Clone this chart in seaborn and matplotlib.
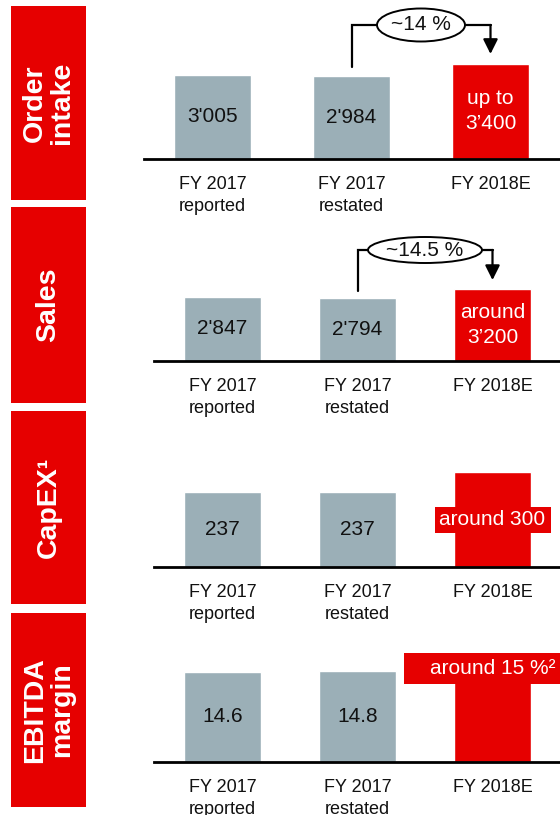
import matplotlib.pyplot as plt
import seaborn as sns
from matplotlib.patches import Rectangle, Ellipse
from matplotlib.transforms import ScaledTranslation

# Figure size in pixels (dpi 100)
W, H = 560, 815

categories = ['FY 2017\nreported', 'FY 2017\nrestated', 'FY 2018E']

order_intake = [3005, 2984, 3400]
sales = [2847, 2794, 3200]
capex = [237, 237, 300]
ebitda_margin = [14.6, 14.8, 15.0]

order_labels = ["3'005", "2'984", "up to\n3\u2019400"]
sales_labels = ["2'847", "2'794", "around\n3\u2019200"]
capex_labels = ['237', '237', 'around 300']
ebitda_labels = ['14.6', '14.8', 'around 15 %\u00b2']

panel_titles = ['Order\nintake', 'Sales', 'CapEX\u00b9', 'EBITDA\nmargin']
growth_labels = ['~14 %', '~14.5 %', None, None]

GRAY = '#9BAFB7'
RED = '#E60000'

sns.set_theme(style='white')
plt.rcParams['font.family'] = ['Liberation Sans', 'DejaVu Sans']

fig = plt.figure(figsize=(W / 100, H / 100), dpi=100)

# layout of each panel in pixels: red title box, baseline, left end of baseline,
# first bar centre, bar spacing, data units per pixel
panels = [
    dict(values=order_intake, labels=order_labels, box=(6, 200), base=159, left=144,
         c0=212.5, step=139, k=3005 / 84, growth=growth_labels[0],
         gap=(9, 134, 10), ell=(88, 33)),
    dict(values=sales, labels=sales_labels, box=(207, 403), base=361, left=154,
         c0=222.5, step=135, k=2847 / 64, growth=growth_labels[1],
         gap=(7, 111, 9), ell=(114, 26)),
    dict(values=capex, labels=capex_labels, box=(411, 604), base=567, left=154,
         c0=222.5, step=135, k=237 / 75, growth=None),
    dict(values=ebitda_margin, labels=ebitda_labels, box=(613, 807), base=762, left=154,
         c0=222.5, step=135, k=14.6 / 90, growth=None),
]

AX_H = 150  # axes height in px


def px_trans(ax, x, y):
    return fig.dpi_scale_trans + ScaledTranslation(x, y, ax.transData)


for i, p in enumerate(panels):
    # red title box on the left
    top, bottom = p['box']
    fig.add_artist(Rectangle((11 / W, 1 - bottom / H), 75 / W, (bottom - top) / H,
                             transform=fig.transFigure, color=RED, lw=0))
    fig.text(48.5 / W, 1 - (top + bottom) / 2 / H, panel_titles[i], rotation=90,
             ha='center', va='center', color='white', fontsize=20.5,
             fontweight='bold', linespacing=1.05)

    ax = fig.add_axes([p['left'] / W, 1 - p['base'] / H,
                       (W - p['left']) / W, AX_H / H])
    ax.patch.set_visible(False)
    sns.barplot(x=categories, y=p['values'], hue=categories,
                palette=[GRAY, GRAY, RED], saturation=1, width=77 / p['step'],
                legend=False, ax=ax)
    k = p['k']
    ax.set_ylim(0, AX_H * k)
    c2 = p['c0'] + 2 * p['step']
    ax.set_xlim(-(p['c0'] - p['left']) / p['step'], 2 + (W - c2) / p['step'])
    ax.set_xlabel('')
    ax.set_ylabel('')
    ax.set_yticks([])
    for s in ['top', 'right', 'left']:
        ax.spines[s].set_visible(False)
    ax.spines['bottom'].set_color('black')
    ax.spines['bottom'].set_linewidth(2)
    ax.tick_params(axis='x', length=0, pad=12, labelsize=13, labelcolor='#111111')
    ax.set_xticks(range(3))
    ax.set_xticklabels(categories, linespacing=1.4)

    vals = p['values']
    # value labels
    for j in range(2):
        ax.text(j, vals[j] / 2, p['labels'][j], ha='center', va='center',
                fontsize=15, color='#111111')

    if i in (0, 1):
        ax.text(2, vals[2] / 2, p['labels'][2], ha='center', va='center',
                fontsize=15, color='white', linespacing=1.4)
    elif i == 2:
        r = Rectangle((-58 / 100, -13 / 100), 116 / 100, 26 / 100, color=RED, lw=0,
                      transform=px_trans(ax, 2, vals[2] / 2), clip_on=False, zorder=3)
        ax.add_artist(r)
        ax.text(2, vals[2] / 2, p['labels'][2], ha='center', va='center',
                fontsize=15, color='white', zorder=4)
    else:
        r = Rectangle((-88.5 / 100, -14.5 / 100), 156 / 100, 31 / 100, color=RED, lw=0,
                      transform=px_trans(ax, 2, vals[2]), clip_on=False, zorder=3)
        ax.add_artist(r)
        ax.text(2, vals[2] + 1.5 * k, p['labels'][2], ha='center', va='center',
                fontsize=15, color='white', zorder=4)

    # growth arrow with ellipse label
    if p['growth']:
        g0, gtop, g1 = p['gap']
        y_start = vals[1] + g0 * k
        y_top = gtop * k
        y_tip = vals[2] + g1 * k
        ax.plot([1, 1, 2], [y_start, y_top, y_top], color='black', lw=1.6,
                clip_on=False, solid_joinstyle='miter', zorder=5)
        ax.annotate('', xy=(2, y_tip), xytext=(2, y_top),
                    arrowprops=dict(arrowstyle='-|>', color='black', lw=1.6,
                                    mutation_scale=22, shrinkA=0, shrinkB=0),
                    annotation_clip=False, zorder=5)
        ew, eh = p['ell']
        e = Ellipse((0, 0), ew / 100, eh / 100, facecolor='white', edgecolor='black',
                    lw=1.4, transform=px_trans(ax, 1.5, y_top), clip_on=False, zorder=6)
        ax.add_artist(e)
        ax.text(1.5, y_top, p['growth'], ha='center', va='center', fontsize=15,
                color='#111111', zorder=7)

fig.savefig('out.png', dpi=100)
